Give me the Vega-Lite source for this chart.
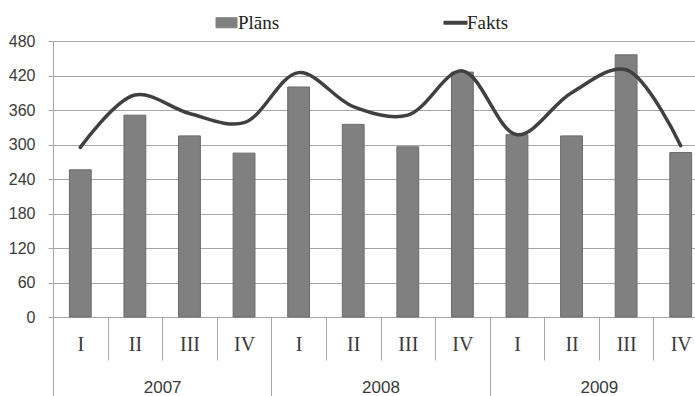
{
  "$schema": "https://vega.github.io/schema/vega-lite/v6.json",
  "width": 642,
  "height": 276,
  "autosize": {"type": "none"},
  "padding": {"left": 53, "top": 41, "right": 0, "bottom": 79},
  "background": "white",
  "config": {
    "font": "Liberation Serif",
    "view": {"stroke": null},
    "axis": {"labelColor": "#3a3a3a"},
    "legend": {"labelFont": "Liberation Serif", "labelFontSize": 19, "labelColor": "#222222"}
  },
  "data": {
    "values": [
      {"yr": "2007", "q": "I", "k": "2007 I", "plan": 256, "fakts": 295},
      {"yr": "2007", "q": "II", "k": "2007 II", "plan": 351, "fakts": 386},
      {"yr": "2007", "q": "III", "k": "2007 III", "plan": 315, "fakts": 354},
      {"yr": "2007", "q": "IV", "k": "2007 IV", "plan": 285, "fakts": 338},
      {"yr": "2008", "q": "I", "k": "2008 I", "plan": 400, "fakts": 425},
      {"yr": "2008", "q": "II", "k": "2008 II", "plan": 335, "fakts": 366},
      {"yr": "2008", "q": "III", "k": "2008 III", "plan": 296, "fakts": 351},
      {"yr": "2008", "q": "IV", "k": "2008 IV", "plan": 426, "fakts": 428},
      {"yr": "2009", "q": "I", "k": "2009 I", "plan": 317, "fakts": 317},
      {"yr": "2009", "q": "II", "k": "2009 II", "plan": 315, "fakts": 390},
      {"yr": "2009", "q": "III", "k": "2009 III", "plan": 456, "fakts": 430},
      {"yr": "2009", "q": "IV", "k": "2009 IV", "plan": 286, "fakts": 298}
    ]
  },
  "layer": [
    {
      "layer": [
        {
          "mark": {"type": "bar", "width": {"band": 0.4}, "stroke": "#6a6a6a", "strokeWidth": 1},
          "encoding": {
            "x": {
              "field": "k", "type": "nominal", "sort": null,
              "scale": {"range": [0, 655], "paddingInner": 0, "paddingOuter": 0},
              "axis": {
                "title": null, "orient": "bottom", "tickBand": "extent", "tickSize": 43,
                "tickColor": "#a6a6a6", "domainColor": "#a6a6a6", "labelAngle": 0,
                "labelExpr": "split(datum.label, ' ')[1]",
                "labelFont": "Liberation Serif", "labelFontSize": 20, "labelPadding": -26,
                "labelBaseline": "top", "grid": false
              }
            },
            "y": {
              "field": "plan", "type": "quantitative",
              "scale": {"domain": [0, 480], "nice": false},
              "axis": {
                "title": null, "values": [0, 60, 120, 180, 240, 300, 360, 420, 480],
                "labelOverlap": false,
                "grid": true, "gridColor": "#a6a6a6", "domainColor": "#a6a6a6",
                "tickColor": "#a6a6a6", "tickSize": 5, "labelPadding": 13,
                "labelFont": "Liberation Sans", "labelFontSize": 16
              }
            },
            "color": {
              "datum": "Plāns",
              "scale": {"domain": ["Plāns", "Fakts"], "range": ["#808080", "#404040"]},
              "legend": {
                "title": null, "orient": "none", "direction": "horizontal",
                "legendX": 164, "legendY": -28, "padding": 0,
                "symbolSize": 576, "labelOffset": 2, "columnPadding": 155,
                "labelFont": "Liberation Serif", "labelFontSize": 19, "labelColor": "#222222",
                "encode": {
                  "symbols": {
                    "update": {
                      "shape": {"signal": "datum.value === 'Fakts' ? 'stroke' : 'M-0.875,-0.42H0.875V0.42H-0.875Z'"},
                      "fill": {"signal": "datum.value === 'Fakts' ? 'transparent' : '#808080'"},
                      "stroke": {"signal": "datum.value === 'Fakts' ? '#404040' : '#6a6a6a'"},
                      "strokeWidth": {"signal": "datum.value === 'Fakts' ? 4 : 1"},
                      "size": {"value": 576},
                      "opacity": {"value": 1},
                      "fillOpacity": {"value": 1},
                      "strokeOpacity": {"value": 1}
                    }
                  }
                }
              }
            }
          }
        },
        {
          "mark": {"type": "line", "interpolate": "catmull-rom", "strokeWidth": 3.5, "strokeCap": "round"},
          "encoding": {
            "x": {"field": "k", "type": "nominal", "sort": null},
            "y": {
              "field": "fakts", "type": "quantitative",
              "axis": {
                "title": null, "values": [0, 60, 120, 180, 240, 300, 360, 420, 480],
                "labelOverlap": false,
                "grid": true, "gridColor": "#a6a6a6", "domainColor": "#a6a6a6",
                "tickColor": "#a6a6a6", "tickSize": 5, "labelPadding": 13,
                "labelFont": "Liberation Sans", "labelFontSize": 16
              }
            },
            "color": {
              "datum": "Fakts",
              "legend": {
                "title": null, "orient": "none", "direction": "horizontal",
                "legendX": 164, "legendY": -28, "padding": 0,
                "symbolSize": 576, "labelOffset": 2, "columnPadding": 155,
                "labelFont": "Liberation Serif", "labelFontSize": 19, "labelColor": "#222222",
                "encode": {
                  "symbols": {
                    "update": {
                      "shape": {"signal": "datum.value === 'Fakts' ? 'stroke' : 'M-0.875,-0.42H0.875V0.42H-0.875Z'"},
                      "fill": {"signal": "datum.value === 'Fakts' ? 'transparent' : '#808080'"},
                      "stroke": {"signal": "datum.value === 'Fakts' ? '#404040' : '#6a6a6a'"},
                      "strokeWidth": {"signal": "datum.value === 'Fakts' ? 4 : 1"},
                      "size": {"value": 576},
                      "opacity": {"value": 1},
                      "fillOpacity": {"value": 1},
                      "strokeOpacity": {"value": 1}
                    }
                  }
                }
              }
            }
          }
        }
      ]
    },
    {
      "mark": {"type": "point", "opacity": 0},
      "encoding": {
        "x": {
          "field": "yr", "type": "nominal",
          "scale": {"range": [0, 655], "paddingInner": 0, "paddingOuter": 0},
          "axis": {
            "title": null, "orient": "bottom", "tickBand": "extent", "tickSize": 79,
            "tickColor": "#a6a6a6", "domainColor": "#a6a6a6", "labelAngle": 0,
            "labelFont": "Liberation Sans", "labelFontSize": 17, "labelPadding": -9,
            "labelBaseline": "middle", "grid": false
          }
        }
      }
    }
  ],
  "resolve": {"scale": {"x": "independent"}, "axis": {"x": "independent"}}
}
